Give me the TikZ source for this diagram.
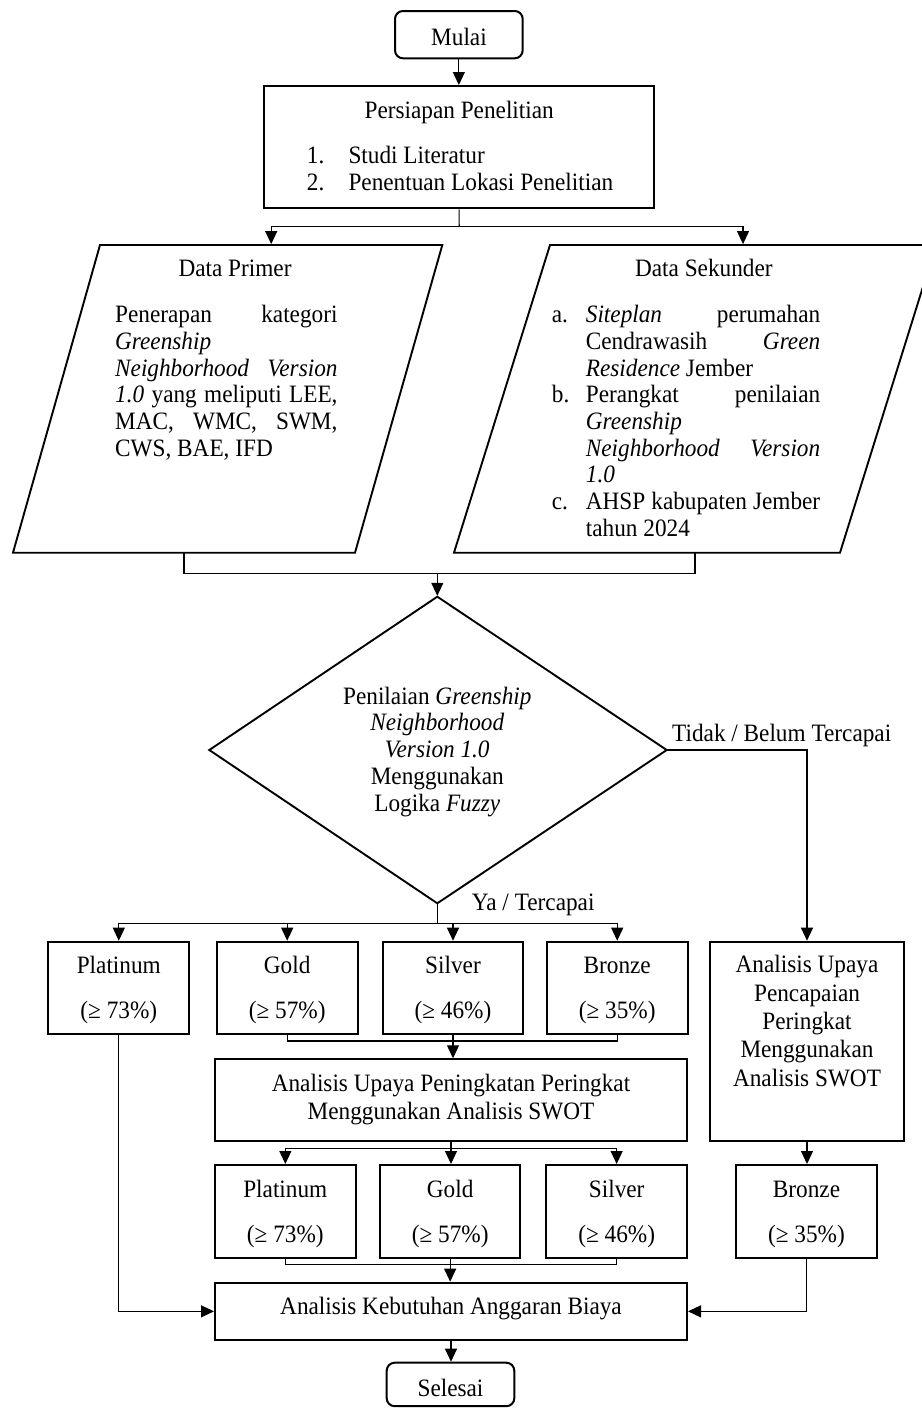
\documentclass[tikz,border=0pt]{standalone}
\usepackage{fontspec}
\setmainfont{Liberation Serif}[FakeStretch=0.93]
\usetikzlibrary{arrows.meta, fit}
\tikzset{
 box/.style={draw, line width=2pt, inner sep=0pt},
 rbox/.style={box, rounded corners=8pt},
 shp/.style={draw, line width=1.9pt, line join=miter},
 conn/.style={line width=1.1pt},
 arr/.style={conn, -{Triangle[length=13pt,width=12pt]}},
 txt/.style={inner sep=0pt, anchor=base, font=\fontsize{25}{26.7}\selectfont},
 txtl/.style={txt, anchor=base west},
}
\newcommand{\jl}[2]{\makebox[#1][s]{#2}}
\begin{document}
\begin{tikzpicture}[x=1pt,y=1pt]
\useasboundingbox (0,0) rectangle (921,-1408);
% --- start
\node[rbox, fit={(395,-11) (522.7,-58.3)}] (mulai) {};
\node[txt] (tmulai) at (459,-45) {Mulai};
% --- persiapan
\node[box, fit={(264.3,-86) (654,-208.3)}] (persiapan) {};
\node[txt] (tpers) at (459.2,-118.3) {Persiapan Penelitian};
\node[txtl] (tp1n) at (306.7,-163.3) {1.};
\node[txtl] (tp1) at (348.3,-163.3) {Studi Literatur};
\node[txtl] (tp2n) at (306.7,-190.3) {2.};
\node[txtl] (tp2) at (348.3,-190.3) {Penentuan Lokasi Penelitian};
% --- data primer (parallelogram)
\coordinate (prTL) at (100,-245);
\coordinate (prTR) at (442.3,-245);
\coordinate (prBR) at (355,-552.7);
\coordinate (prBL) at (13,-552.7);
\draw[shp] (prTL) -- (prTR) -- (prBR) -- (prBL) -- cycle;
\coordinate (primerTop) at (271.2,-245);
\coordinate (primerBot) at (184,-552.7);
\node[txt] (tprim) at (235,-276) {Data Primer};
\node[txtl] (pr1) at (115,-322.7) {\jl{222.3pt}{Penerapan kategori}};
\node[txtl] (pr2) at (115,-349.4) {\textit{Greenship}};
\node[txtl] (pr3) at (115,-376.1) {\jl{222.3pt}{\textit{Neighborhood Version}}};
\node[txtl] (pr4) at (115,-402.8) {\jl{222.3pt}{\textit{1.0} yang meliputi LEE,}};
\node[txtl] (pr5) at (115,-429.5) {\jl{222.3pt}{MAC, WMC, SWM,}};
\node[txtl] (pr6) at (115,-456.2) {CWS, BAE, IFD};
% --- data sekunder (parallelogram)
\coordinate (skTL) at (550,-245);
\coordinate (skTR) at (936,-245);
\coordinate (skBR) at (840,-552.7);
\coordinate (skBL) at (454,-552.7);
\draw[shp] (skTL) -- (skTR) -- (skBR) -- (skBL) -- cycle;
\coordinate (sekTop) at (743,-245);
\coordinate (sekBot) at (695,-552.7);
\node[txt] (tsek) at (703.8,-276) {Data Sekunder};
\node[txtl] (sa) at (551.7,-322.7) {a.};
\node[txtl] (s1) at (585.7,-322.7) {\jl{234.3pt}{\textit{Siteplan} perumahan}};
\node[txtl] (s2l) at (585.7,-349.4) {\jl{234.3pt}{Cendrawasih \textit{Green}}};
\node[txtl] (s3) at (585.7,-376.1) {\textit{Residence} Jember};
\node[txtl] (sb) at (551.7,-402.8) {b.};
\node[txtl] (s4) at (585.7,-402.8) {\jl{234.3pt}{Perangkat penilaian}};
\node[txtl] (s5) at (585.7,-429.5) {\textit{Greenship}};
\node[txtl] (s6) at (585.7,-456.2) {\jl{234.3pt}{\textit{Neighborhood Version}}};
\node[txtl] (s7) at (585.7,-482.9) {\textit{1.0}};
\node[txtl] (sc) at (551.7,-509.6) {c.};
\node[txtl] (s8) at (585.7,-509.6) {\jl{234.3pt}{AHSP kabupaten Jember}};
\node[txtl] (s9) at (585.7,-536.3) {tahun 2024};
% --- decision (diamond)
\coordinate (dN) at (437.3,-596.7);
\coordinate (dE) at (666.7,-750);
\coordinate (dS) at (437.3,-903.3);
\coordinate (dW) at (209.3,-750);
\draw[shp] (dN) -- (dE) -- (dS) -- (dW) -- cycle;
\node[txt] (d1) at (437.3,-704) {Penilaian \textit{Greenship}};
\node[txt] (d2) at (437.3,-730.8) {\textit{Neighborhood}};
\node[txt] (d3) at (437.3,-757.6) {\textit{Version 1.0}};
\node[txt] (d4) at (437.3,-784.4) {Menggunakan};
\node[txt] (d5) at (437.3,-811.2) {Logika \textit{Fuzzy}};
\node[txtl] (tidak) at (672,-741.7) {Tidak / Belum Tercapai};
\node[txtl] (ya) at (471.7,-910.7) {Ya / Tercapai};
% --- row 1
\node[box, fit={(48.3,-941.7) (189.3,-1034.3)}] (r1a) {};
\node[box, fit={(216.7,-941.7) (357.7,-1034.3)}] (r1b) {};
\node[box, fit={(382.7,-941.7) (523.3,-1034.3)}] (r1c) {};
\node[box, fit={(546.7,-941.7) (687.7,-1034.3)}] (r1d) {};
\node[box, fit={(710.3,-941.7) (903.7,-1140.7)}] (upaya) {};
\node[txt] (r1at) at (118.8,-973.3) {Platinum};
\node[txt] (r1ap) at (118.8,-1018) {(≥ 73\%)};
\node[txt] (r1bt) at (287.2,-973.3) {Gold};
\node[txt] (r1bp) at (287.2,-1018) {(≥ 57\%)};
\node[txt] (r1ct) at (453,-973.3) {Silver};
\node[txt] (r1cp) at (453,-1018) {(≥ 46\%)};
\node[txt] (r1dt) at (617.2,-973.3) {Bronze};
\node[txt] (r1dp) at (617.2,-1018) {(≥ 35\%)};
\node[txt] (u1) at (807,-972.7) {Analisis Upaya};
\node[txt] (u2) at (807,-1001) {Pencapaian};
\node[txt] (u3) at (807,-1029.3) {Peringkat};
\node[txt] (u4) at (807,-1057.7) {Menggunakan};
\node[txt] (u5) at (807,-1086) {Analisis SWOT};
% --- swot
\node[box, fit={(215,-1059.3) (687,-1140.7)}] (swot) {};
\node[txt] (sw1) at (451,-1091.7) {Analisis Upaya Peningkatan Peringkat};
\node[txt] (sw2) at (451,-1119.3) {Menggunakan Analisis SWOT};
% --- row 2
\node[box, fit={(215,-1165) (355.7,-1258.3)}] (r2a) {};
\node[box, fit={(380,-1165) (520.3,-1258.3)}] (r2b) {};
\node[box, fit={(546.3,-1165) (687,-1258.3)}] (r2c) {};
\node[box, fit={(736,-1165) (877,-1258.3)}] (r2d) {};
\node[txt] (r2at) at (285.3,-1197.7) {Platinum};
\node[txt] (r2ap) at (285.3,-1242.3) {(≥ 73\%)};
\node[txt] (r2bt) at (450.2,-1197.7) {Gold};
\node[txt] (r2bp) at (450.2,-1242.3) {(≥ 57\%)};
\node[txt] (r2ct) at (616.7,-1197.7) {Silver};
\node[txt] (r2cp) at (616.7,-1242.3) {(≥ 46\%)};
\node[txt] (r2dt) at (806.5,-1197.7) {Bronze};
\node[txt] (r2dp) at (806.5,-1242.3) {(≥ 35\%)};
% --- budget and end
\node[box, fit={(215,-1282.7) (687,-1340)}] (keb) {};
\node[txt] (tkeb) at (451,-1314.3) {Analisis Kebutuhan Anggaran Biaya};
\node[rbox, fit={(386.7,-1362.7) (514.3,-1406.2)}] (selesai) {};
\node[txt] (tsel) at (450.5,-1396) {Selesai};
% --- junction points
\coordinate (split1) at (459.2,-226.7);
\coordinate (join1) at (437.3,-573.3);
\coordinate (ya1) at (437.3,-923.3);
\coordinate (m1) at (453,-1041);
\coordinate (sp2) at (451,-1148.3);
\coordinate (m2) at (450.2,-1264.3);
% --- connectors
\draw[arr] (mulai.south) -- (mulai.south |- persiapan.north);
\draw[conn] (persiapan.south) -- (split1);
\draw[arr] (split1) -| ([yshift=0.9pt]primerTop);
\draw[arr] (split1) -| ([yshift=0.9pt]sekTop);
\draw[conn] (primerBot) |- (join1) -| (sekBot);
\draw[arr] (join1) -- ([yshift=0.9pt]dN);
\draw[conn] (dS) -- (ya1);
\draw[arr] (ya1) -| (r1a.north);
\draw[arr] (ya1) -| (r1b.north);
\draw[arr] (ya1) -| (r1c.north);
\draw[arr] (ya1) -| (r1d.north);
\draw[arr] (dE) -| (upaya.north);
\draw[conn] (r1b.south) |- (m1) -| (r1d.south);
\draw[arr] (r1c.south) -- (r1c.south |- swot.north);
\draw[conn] (swot.south) -- (sp2);
\draw[arr] (sp2) -| (r2a.north);
\draw[arr] (sp2) -- (sp2 |- r2b.north);
\draw[arr] (sp2) -| (r2c.north);
\draw[arr] (upaya.south) -- (upaya.south |- r2d.north);
\draw[conn] (r2a.south) |- (m2) -| (r2c.south);
\draw[arr] (r2b.south) -- (r2b.south |- keb.north);
\draw[arr] (r1a.south) |- (keb.west);
\draw[arr] (r2d.south) |- (keb.east);
\draw[arr] (keb.south) -- (keb.south |- selesai.north);
\end{tikzpicture}
\end{document}
